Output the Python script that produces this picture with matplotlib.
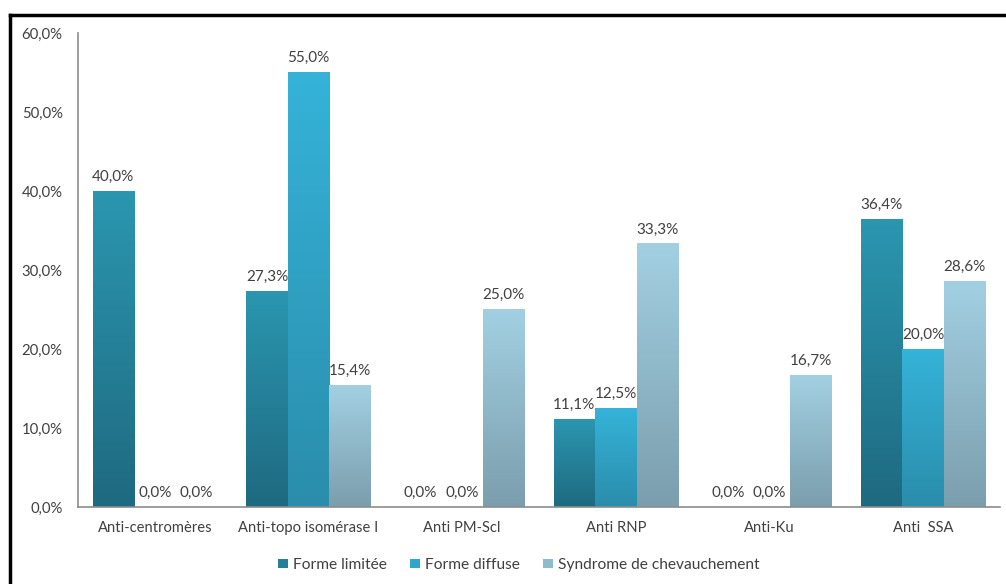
import numpy as np
import matplotlib
matplotlib.use("Agg")
import matplotlib.pyplot as plt
from matplotlib.colors import LinearSegmentedColormap
from matplotlib.patches import Patch
from matplotlib.lines import Line2D

plt.rcParams['font.family'] = ['Lato', 'DejaVu Sans']

categories = ['Anti-centromères', 'Anti-topo isomérase I', 'Anti PM-Scl',
              'Anti RNP', 'Anti-Ku', 'Anti  SSA']
series_names = ['Forme limitée', 'Forme diffuse', 'Syndrome de chevauchement']
forme_limitee = [40.0, 27.3, 0.0, 11.1, 0.0, 36.4]
forme_diffuse = [0.0, 55.0, 0.0, 12.5, 0.0, 20.0]
syndrome = [0.0, 15.4, 25.0, 33.3, 16.7, 28.6]
series = [forme_limitee, forme_diffuse, syndrome]

# (bottom colour, top colour) for the vertical gradient of each series
grads = [('#1e6a80', '#2b96b0'),
         ('#2a8dab', '#35b3d9'),
         ('#7b9ead', '#a2d0e2')]
legend_cols = ['#24809a', '#30a6cb', '#8fbccd']

fig = plt.figure(figsize=(10.06, 5.84), dpi=100)
ax = fig.add_axes([78/1006, 1-507/584, (1000-78)/1006, (507-33)/584])

x = np.arange(len(categories))
w = 0.27
grad = np.linspace(0, 1, 256).reshape(-1, 1)
txt_col = '#404040'

for i, vals in enumerate(series):
    cmap = LinearSegmentedColormap.from_list('g%d' % i, grads[i])
    xs = x + (i - 1) * w
    bars = ax.bar(xs, vals, w, color='none', edgecolor='none')
    for b, v in zip(bars, vals):
        if v > 0:
            ax.imshow(grad, extent=(b.get_x(), b.get_x() + w, 0, v), origin='lower',
                      cmap=cmap, aspect='auto', zorder=2)
        ax.text(b.get_x() + w/2, v + 0.9, ('%.1f%%' % v).replace('.', ','),
                ha='center', va='bottom', fontsize=11, color=txt_col)

ax.set_xlim(-0.5, len(categories) - 0.5)
ax.set_ylim(0, 60)
ax.set_yticks(np.arange(0, 61, 10))
ax.set_yticklabels([('%.1f%%' % t).replace('.', ',') for t in np.arange(0, 61, 10)])
ax.set_xticks(x)
ax.set_xticklabels(categories)
ax.tick_params(axis='both', length=0, labelcolor=txt_col)
ax.tick_params(axis='y', pad=11, labelsize=10.7)
ax.tick_params(axis='x', pad=10, labelsize=10.6)
for s in ['top', 'right']:
    ax.spines[s].set_visible(False)
for s in ['left', 'bottom']:
    ax.spines[s].set_color('#8c8c8c')
    ax.spines[s].set_linewidth(1.2)

handles = [Patch(facecolor=c, edgecolor='none') for c in legend_cols]
fig.legend(handles, series_names, loc='center', bbox_to_anchor=(519/1006, 1-565/584),
           ncol=3, frameon=False, fontsize=11.2, handlelength=0.6, handleheight=0.6,
           handletextpad=0.35, columnspacing=1.5, labelcolor=txt_col)

# outer frame
fig.add_artist(Line2D([10/1006, 1], [1-15/584, 1-15/584], color='black', lw=2.5,
                      transform=fig.transFigure))
fig.add_artist(Line2D([10/1006, 10/1006], [0, 1-15/584], color='black', lw=2.5,
                      transform=fig.transFigure))

fig.savefig('out.png', dpi=100, facecolor='white')
